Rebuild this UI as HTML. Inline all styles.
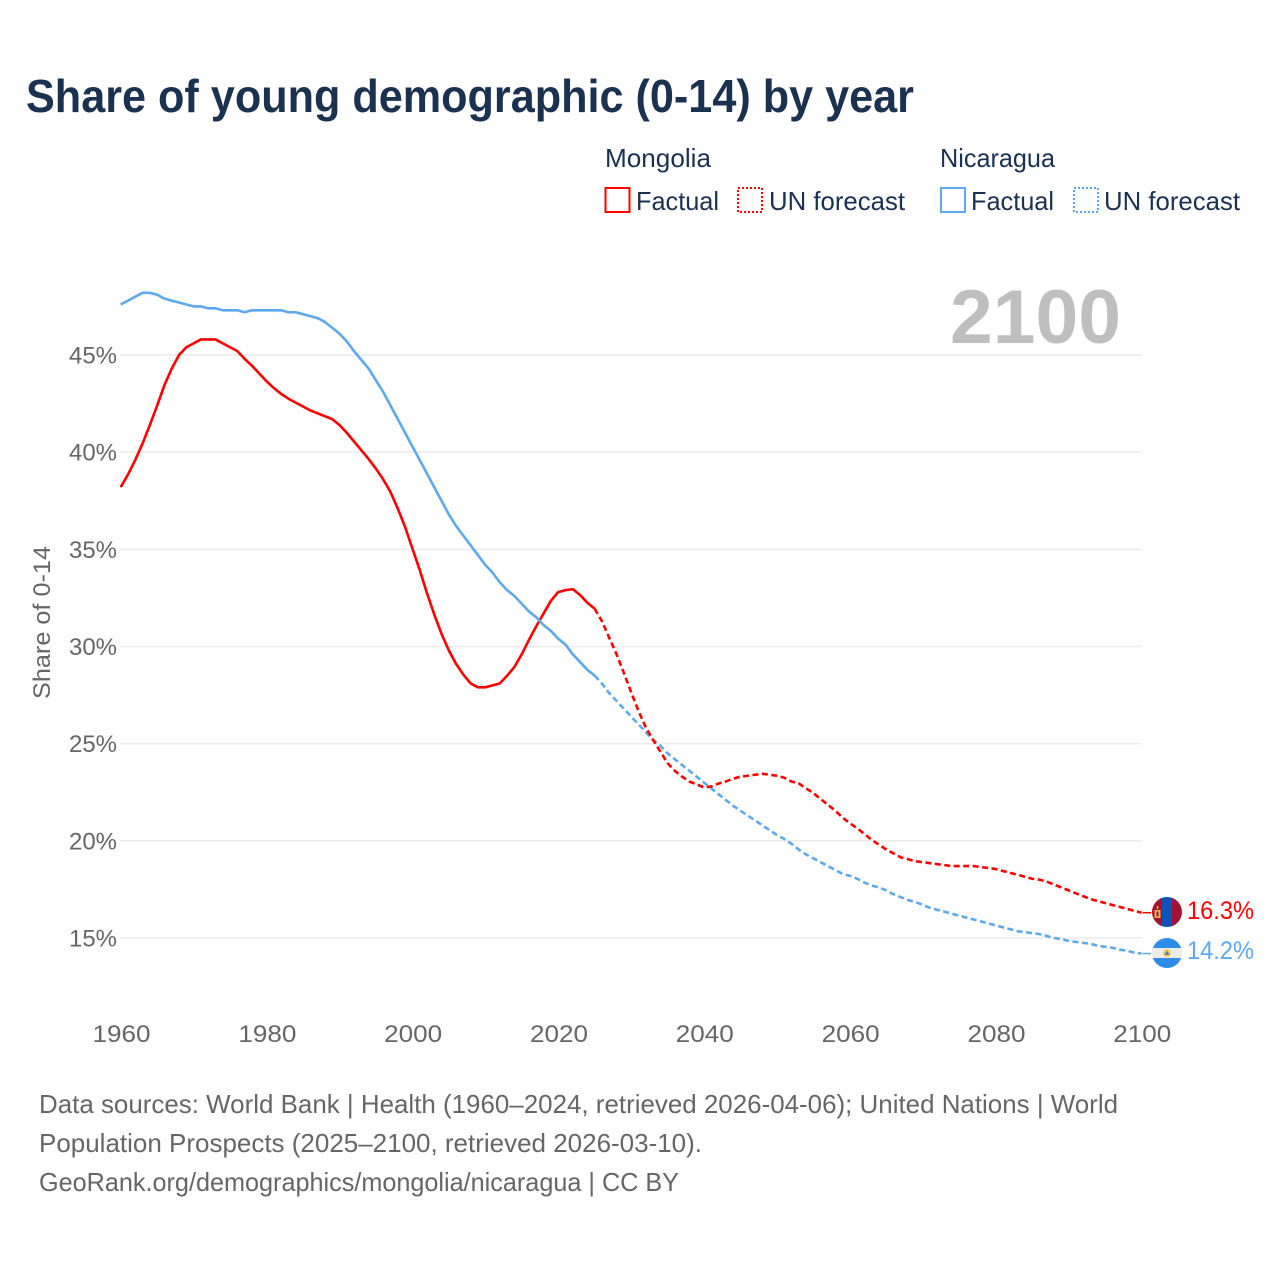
<!DOCTYPE html>
<html lang="en">
<head>
<meta charset="utf-8">
<title>Share of young demographic (0-14) by year</title>
<style>
html,body{margin:0;padding:0;background:#fff}
svg{display:block}
text{font-family:"Liberation Sans",sans-serif}
</style>
</head>
<body>
<svg id="chart" xmlns="http://www.w3.org/2000/svg" width="1280" height="1280" viewBox="0 0 1280 1280">
  <defs>
    <clipPath id="flag-clip-a"><circle cx="1167" cy="912" r="15"/></clipPath>
    <clipPath id="flag-clip-b"><circle cx="1167" cy="953" r="15"/></clipPath>
  </defs>
  <rect width="1280" height="1280" fill="#fff"/>
  <text x="26" y="112" font-size="46" font-weight="700" fill="#1a3150" textLength="888" lengthAdjust="spacingAndGlyphs">Share of young demographic (0-14) by year</text>

  <g font-size="26" fill="#1a3150">
    <text x="605" y="167" textLength="106" lengthAdjust="spacingAndGlyphs">Mongolia</text>
    <rect x="605.5" y="188" width="24" height="24" fill="none" stroke="#ff0000" stroke-width="2"/>
    <text x="636" y="210" textLength="83" lengthAdjust="spacingAndGlyphs">Factual</text>
    <rect x="738" y="188" width="24" height="24" fill="none" stroke="#ff0000" stroke-width="2" stroke-dasharray="2 2"/>
    <text x="769" y="210" textLength="136" lengthAdjust="spacingAndGlyphs">UN forecast</text>
    <text x="940" y="167" textLength="115" lengthAdjust="spacingAndGlyphs">Nicaragua</text>
    <rect x="941" y="188" width="24" height="24" fill="none" stroke="#5ea9ee" stroke-width="2"/>
    <text x="971" y="210" textLength="83" lengthAdjust="spacingAndGlyphs">Factual</text>
    <rect x="1074" y="188" width="24" height="24" fill="none" stroke="#5ea9ee" stroke-width="2" stroke-dasharray="2 2"/>
    <text x="1104" y="210" textLength="136" lengthAdjust="spacingAndGlyphs">UN forecast</text>
  </g>

  <g id="grid"></g>
  <g id="y-axis"></g>
  <g id="x-axis"></g>

  <text x="950" y="343" font-size="76" font-weight="700" fill="#bfbfbf" textLength="171" lengthAdjust="spacingAndGlyphs">2100</text>
  <text transform="translate(50,699) rotate(-90)" font-size="24" fill="#666666" textLength="153" lengthAdjust="spacingAndGlyphs">Share of 0-14</text>

  <g id="series"></g>

  <g clip-path="url(#flag-clip-a)">
    <rect x="1152" y="897" width="10" height="30" fill="#a5122f"/>
    <rect x="1162" y="897" width="10" height="30" fill="#0a55b5"/>
    <rect x="1172" y="897" width="10" height="30" fill="#a5122f"/>
    <rect x="1154.5" y="910" width="6" height="8" fill="#e8b94a"/>
    <rect x="1156.5" y="911.5" width="2" height="5" fill="#a5122f"/>
    <rect x="1156.8" y="906" width="1.5" height="3" fill="#e8b94a"/>
  </g>
  <g clip-path="url(#flag-clip-b)">
    <rect x="1152" y="938" width="30" height="10" fill="#2f8de9"/>
    <rect x="1152" y="948" width="30" height="10" fill="#ececec"/>
    <rect x="1152" y="958" width="30" height="10" fill="#2f8de9"/>
    <circle cx="1167" cy="953" r="4" fill="#f2cf5e"/>
    <polygon points="1167,950.5 1164.5,955 1169.5,955" fill="#4a7fb5"/>
  </g>
  <text x="1187" y="919" font-size="25" fill="#ff0000" textLength="67" lengthAdjust="spacingAndGlyphs">16.3%</text>
  <text x="1187" y="959" font-size="25" fill="#5ea9ee" textLength="67" lengthAdjust="spacingAndGlyphs">14.2%</text>

  <g font-size="26" fill="#666666">
    <text x="39" y="1113" textLength="1079" lengthAdjust="spacingAndGlyphs">Data sources: World Bank | Health (1960–2024, retrieved 2026-04-06); United Nations | World</text>
    <text x="39" y="1152" textLength="663" lengthAdjust="spacingAndGlyphs">Population Prospects (2025–2100, retrieved 2026-03-10).</text>
    <text x="39" y="1191" textLength="640" lengthAdjust="spacingAndGlyphs">GeoRank.org/demographics/mongolia/nicaragua | CC BY</text>
  </g>
</svg>
<script>
var yTickValues = [15, 20, 25, 30, 35, 40, 45];
var xTickYears = [1960, 1980, 2000, 2020, 2040, 2060, 2080, 2100];
var factualYears = [
  1960,1961,1962,1963,1964,1965,1966,1967,1968,1969,
  1970,1971,1972,1973,1974,1975,1976,1977,1978,1979,
  1980,1981,1982,1983,1984,1985,1986,1987,1988,1989,
  1990,1991,1992,1993,1994,1995,1996,1997,1998,1999,
  2000,2001,2002,2003,2004,2005,2006,2007,2008,2009,
  2010,2011,2012,2013,2014,2015,2016,2017,2018,2019,
  2020,2021,2022,2023,2024,2025
];
var forecastYears = [
  2025,2026,2027,2028,2029,
  2030,2031,2032,2033,2034,2035,2036,2037,2038,2039,
  2040,2041,2042,2043,2044,2045,2046,2047,2048,2049,
  2050,2051,2052,2053,2054,2055,2056,2057,2058,2059,
  2060,2061,2062,2063,2064,2065,2066,2067,2068,2069,
  2070,2071,2072,2073,2074,2075,2076,2077,2078,2079,
  2080,2081,2082,2083,2084,2085,2086,2087,2088,2089,
  2090,2091,2092,2093,2094,2095,2096,2097,2098,2099,
  2100
];
var mongoliaFactual = [
  38.2,38.85,39.6,40.45,41.4,42.4,43.45,44.3,45.0,45.4,
  45.6,45.8,45.8,45.8,45.6,45.4,45.2,44.8,44.45,44.05,
  43.65,43.3,43.0,42.75,42.55,42.35,42.15,42.0,41.85,41.7,
  41.4,41.0,40.55,40.1,39.65,39.15,38.6,37.95,37.1,36.15,
  35.05,33.95,32.75,31.65,30.65,29.8,29.1,28.55,28.1,27.9,
  27.9,28.0,28.1,28.5,28.95,29.6,30.35,31.05,31.7,32.35,
  32.8,32.9,32.95,32.65,32.25,31.95
];
var mongoliaForecast = [
  31.95,31.3,30.45,29.6,28.65,
  27.65,26.7,25.85,25.2,24.6,24.0,23.6,23.3,23.05,22.9,
  22.75,22.8,22.95,23.05,23.2,23.3,23.35,23.4,23.45,23.4,
  23.35,23.25,23.05,22.95,22.7,22.45,22.15,21.85,21.55,21.2,
  20.9,20.65,20.35,20.05,19.8,19.55,19.35,19.15,19.05,18.95,
  18.9,18.85,18.8,18.75,18.7,18.7,18.7,18.7,18.65,18.6,
  18.55,18.45,18.35,18.25,18.15,18.05,18.0,17.9,17.75,17.6,
  17.45,17.3,17.15,17.0,16.9,16.8,16.7,16.6,16.5,16.4,
  16.3
];
var nicaraguaFactual = [
  47.6,47.8,48.0,48.2,48.2,48.1,47.9,47.8,47.7,47.6,
  47.5,47.5,47.4,47.4,47.3,47.3,47.3,47.2,47.3,47.3,
  47.3,47.3,47.3,47.2,47.2,47.1,47.0,46.9,46.7,46.4,
  46.1,45.7,45.2,44.75,44.3,43.7,43.1,42.4,41.7,41.0,
  40.3,39.6,38.9,38.2,37.5,36.8,36.2,35.7,35.2,34.7,
  34.2,33.8,33.3,32.9,32.6,32.2,31.8,31.5,31.1,30.8,
  30.4,30.1,29.6,29.2,28.8,28.5
];
var nicaraguaForecast = [
  28.5,28.1,27.6,27.2,26.8,
  26.4,26.0,25.6,25.2,24.9,24.5,24.2,23.9,23.6,23.3,
  23.0,22.7,22.4,22.1,21.8,21.55,21.3,21.05,20.8,20.55,
  20.3,20.1,19.85,19.55,19.3,19.1,18.9,18.7,18.5,18.3,
  18.2,18.05,17.85,17.7,17.6,17.45,17.25,17.1,16.95,16.85,
  16.7,16.55,16.45,16.35,16.25,16.15,16.05,15.95,15.85,15.75,
  15.65,15.55,15.45,15.35,15.3,15.25,15.2,15.1,15.0,14.95,
  14.85,14.8,14.75,14.7,14.6,14.55,14.5,14.4,14.35,14.25,
  14.2
];

var NS = 'http://www.w3.org/2000/svg';
function xScale(year) { return 120.7 + (year - 1960) * (1141.5 - 120.7) / 140; }
function yScale(value) { return 355 + (45 - value) * (938 - 355) / 30; }
function linePath(years, values) {
  var parts = [];
  for (var i = 0; i < years.length; i++) {
    parts.push((i ? 'L' : 'M') + xScale(years[i]).toFixed(2) + ' ' + yScale(values[i]).toFixed(2));
  }
  return parts.join(' ');
}
function make(tag, parentId, attrs, content) {
  var el = document.createElementNS(NS, tag);
  for (var k in attrs) { el.setAttribute(k, attrs[k]); }
  if (content !== undefined) { el.textContent = content; }
  document.getElementById(parentId).appendChild(el);
  return el;
}

yTickValues.forEach(function (v) {
  var grid = make('line', 'grid', { x1: 120, x2: 1141.5, y1: yScale(v), y2: yScale(v), stroke: '#ececec', 'stroke-width': 1.5 });
  
  
  var label = make('text', 'y-axis', { x: 117, y: yScale(v) + 8.5, 'text-anchor': 'end', 'font-size': 24, fill: '#666666', textLength: 48, lengthAdjust: 'spacingAndGlyphs' }, v + '%');
  
  
});

xTickYears.forEach(function (year) {
  var label = make('text', 'x-axis', { x: xScale(year) + 0.8, y: 1042, 'text-anchor': 'middle', 'font-size': 24, fill: '#666666', textLength: 58, lengthAdjust: 'spacingAndGlyphs' }, String(year));
  
  
});

var redFactual = make('path', 'series', { d: linePath(factualYears, mongoliaFactual), fill: 'none', stroke: '#ff0000', 'stroke-width': 2.6, 'stroke-linejoin': 'round' });



var blueForecast = make('path', 'series', { d: linePath(forecastYears, nicaraguaForecast), fill: 'none', stroke: '#5ea9ee', 'stroke-width': 2.6, 'stroke-dasharray': '6 3.5' });



var blueFactual = make('path', 'series', { d: linePath(factualYears, nicaraguaFactual), fill: 'none', stroke: '#5ea9ee', 'stroke-width': 2.6, 'stroke-linejoin': 'round' });



var redForecast = make('path', 'series', { d: linePath(forecastYears, mongoliaForecast), fill: 'none', stroke: '#ff0000', 'stroke-width': 2.6, 'stroke-dasharray': '6 3.5' });



var lastRed = mongoliaForecast[mongoliaForecast.length - 1];
var redLeader = make('line', 'series', { x1: xScale(2100) + 1, x2: 1151, y1: yScale(lastRed), y2: yScale(lastRed), stroke: '#ff0000', 'stroke-width': 1.5 });



var lastBlue = nicaraguaForecast[nicaraguaForecast.length - 1];
var blueLeader = make('line', 'series', { x1: xScale(2100) + 1, x2: 1151, y1: yScale(lastBlue), y2: yScale(lastBlue), stroke: '#5ea9ee', 'stroke-width': 1.5 });


</script>
</body>
</html>
